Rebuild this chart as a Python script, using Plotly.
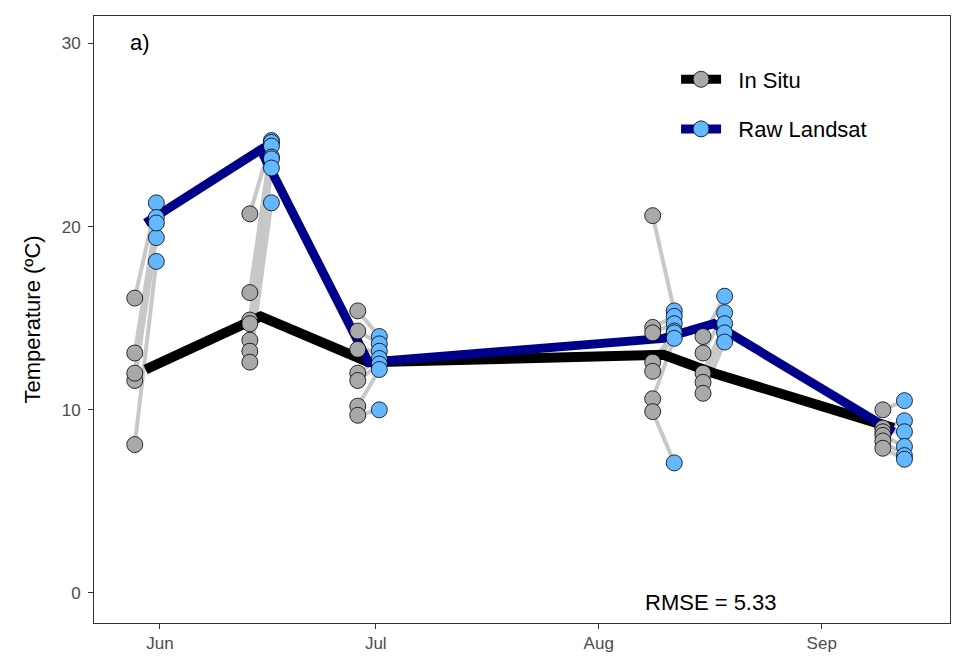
import plotly.graph_objects as go
import pandas as pd

dates = ["2019-05-30", "2019-06-15", "2019-06-30", "2019-08-10", "2019-08-17", "2019-09-11"]
insitu_mean = [12.2, 15.1, 12.6, 13.0, 12.0, 9.0]
landsat_mean = [20.2, 24.2, 12.6, 13.9, 14.7, 8.8]
insitu_pts = [
    [16.1, 13.1, 11.6, 8.1, 12.0],
    [20.7, 16.4, 14.9, 14.7, 13.8, 13.2, 12.6],
    [15.4, 14.3, 13.3, 12.0, 11.6, 10.2, 9.7],
    [20.6, 14.5, 14.2, 12.6, 12.1, 10.6, 9.9],
    [14.0, 13.1, 12.0, 11.5, 10.9],
    [10.0, 9.0, 8.8, 8.6, 8.3, 7.9],
]
landsat_pts = [
    [21.3, 20.5, 19.4, 18.1, 20.2],
    [24.7, 24.6, 24.4, 23.8, 23.7, 23.2, 21.3],
    [14.0, 13.6, 13.2, 12.8, 12.5, 12.2, 10.0],
    [15.4, 15.1, 14.7, 14.3, 14.2, 13.9, 7.1],
    [16.2, 15.3, 14.7, 14.2, 13.7],
    [10.5, 9.4, 8.8, 8.0, 7.5, 7.3],
]

dodge = pd.Timedelta(hours=36)
fig = go.Figure()

# gray pair lines
gx, gy = [], []
for d, a, b in zip(dates, insitu_pts, landsat_pts):
    t = pd.Timestamp(d)
    for va, vb in zip(a, b):
        gx += [t - dodge, t + dodge, None]
        gy += [va, vb, None]
fig.add_trace(go.Scatter(x=gx, y=gy, mode="lines", line=dict(color="#c8c8c8", width=4),
                         showlegend=False, hoverinfo="skip"))

fig.add_trace(go.Scatter(x=pd.to_datetime(dates), y=insitu_mean, mode="lines",
                         line=dict(color="black", width=10), showlegend=False))
fig.add_trace(go.Scatter(x=pd.to_datetime(dates), y=landsat_mean, mode="lines",
                         line=dict(color="#00008b", width=9), showlegend=False))

ix, iy, lx, ly = [], [], [], []
for d, a, b in zip(dates, insitu_pts, landsat_pts):
    t = pd.Timestamp(d)
    ix += [t - dodge] * len(a); iy += a
    lx += [t + dodge] * len(b); ly += b
mk = dict(size=16, line=dict(color="black", width=0.8))
fig.add_trace(go.Scatter(x=ix, y=iy, mode="markers", marker=dict(color="#a9a9a9", **mk), showlegend=False))
fig.add_trace(go.Scatter(x=lx, y=ly, mode="markers", marker=dict(color="#63b8ff", **mk), showlegend=False))

# legend entries
fig.add_trace(go.Scatter(x=[None], y=[None], mode="lines+markers", name="  In Situ", legendgroup="a",
                         line=dict(color="black", width=9), marker=dict(color="#a9a9a9", **mk)))
fig.add_trace(go.Scatter(x=[None], y=[None], mode="lines+markers", name="  Raw Landsat", legendgroup="b",
                         line=dict(color="#00008b", width=9), marker=dict(color="#63b8ff", **mk)))

fig.add_annotation(x=0.04, y=0.98, xref="paper", yref="paper", text="a)", showarrow=False,
                   font=dict(size=22, color="black"), xanchor="left", yanchor="top")
fig.add_annotation(x=0.72, y=-1.3, xref="paper", yref="y", text="RMSE = 5.33", showarrow=False,
                   font=dict(size=22, color="black"), xanchor="center", yanchor="bottom")

axis_common = dict(showgrid=False, zeroline=False, showline=True, linecolor="#333333", mirror=True,
                   ticks="outside", ticklen=5, tickcolor="#333333", automargin=False,
                   tickfont=dict(size=17, color="#4d4d4d"))
fig.update_xaxes(range=["2019-05-22 20:00", "2019-09-18 20:00"],
                 tickvals=["2019-06-01", "2019-07-01", "2019-08-01", "2019-09-01"],
                 ticktext=["Jun", "Jul", "Aug", "Sep"], **axis_common)
fig.update_yaxes(range=[-1.64, 31.5], tickvals=[0, 10, 20, 30], ticklabelstandoff=4,
                 title=dict(text="Temperature (ºC)", font=dict(size=22, color="black"), standoff=14),
                 **axis_common)
fig.update_layout(width=960, height=672, plot_bgcolor="white", paper_bgcolor="white",
                  font=dict(family="Liberation Sans, Arial"),
                  margin=dict(l=86, r=18, t=8, b=57),
                  legend=dict(x=0.68, y=0.93, xanchor="left", yanchor="top", bgcolor="rgba(0,0,0,0)",
                              font=dict(size=22, color="black"), itemwidth=40, tracegroupgap=18))
fig.write_html("out.html")
